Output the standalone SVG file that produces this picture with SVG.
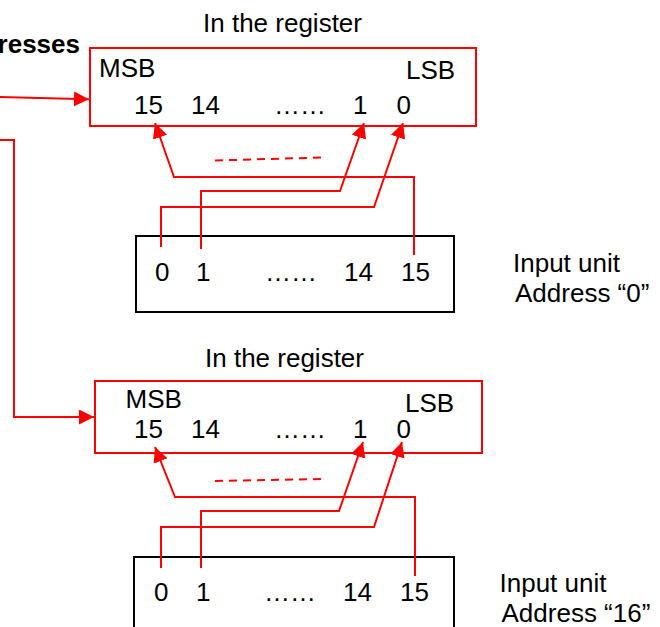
<svg xmlns="http://www.w3.org/2000/svg" width="660" height="627" viewBox="0 0 660 627">
<style>
text{font-family:"Liberation Sans",Arial,Helvetica,sans-serif;font-size:26px;fill:#000}
.b{font-weight:bold}
.reg{fill:#fff;stroke:#ff0000;stroke-width:2}
.inp{fill:#fff;stroke:#000;stroke-width:2}
.wire{fill:none;stroke:#ff0000;stroke-width:2}
.arr{fill:none;stroke:#ff0000;stroke-width:2;marker-end:url(#ah)}
.dash{fill:none;stroke:#ff0000;stroke-width:2;stroke-dasharray:8 6}
</style>
<defs>
<marker id="ah" markerUnits="userSpaceOnUse" markerWidth="16" markerHeight="16" refX="15" refY="7.5" orient="auto">
<path d="M0,0 L15,7.5 L0,15 Z" fill="#ff0000"/>
</marker>
</defs>
<rect width="660" height="627" fill="#fff"/>
<text class="b" x="80" y="53" text-anchor="end">resses</text>

<g id="register1">
<text x="203" y="32">In the register</text>
<rect class="reg" x="90" y="48" width="386" height="78"/>
<text x="99" y="77">MSB</text>
<text x="406" y="79">LSB</text>
<text x="134" y="114">15</text>
<text x="191" y="114">14</text>
<text x="274" y="114">……</text>
<text x="353" y="114">1</text>
<text x="396.5" y="114">0</text>
</g>

<g id="input1">
<rect class="inp" x="136" y="236" width="318" height="76"/>
<text x="155" y="281">0</text>
<text x="196" y="281">1</text>
<text x="265" y="281">……</text>
<text x="344" y="281">14</text>
<text x="401" y="281">15</text>
<text x="513" y="272">Input unit</text>
<text x="515" y="302">Address “0”</text>
</g>

<g id="register2">
<text x="205" y="367">In the register</text>
<rect class="reg" x="95" y="381" width="387" height="72"/>
<text x="125.5" y="408">MSB</text>
<text x="405" y="412">LSB</text>
<text x="134" y="438">15</text>
<text x="191" y="438">14</text>
<text x="274" y="438">……</text>
<text x="353" y="438">1</text>
<text x="396.5" y="438">0</text>
</g>

<g id="input2">
<rect class="inp" x="134" y="557" width="320" height="100"/>
<text x="154" y="601">0</text>
<text x="196" y="601">1</text>
<text x="264" y="601">……</text>
<text x="343" y="601">14</text>
<text x="400" y="601">15</text>
<text x="499.5" y="592">Input unit</text>
<text x="501.5" y="622">Address “16”</text>
</g>

<g id="connectors">
<path class="arr" d="M0,97 L89,99.3"/>
<path class="arr" d="M0,140 L14,140 L14,417 L94,417"/>
<path class="arr" d="M414,255 L414,177 L174,177 L155,123"/>
<path class="arr" d="M201,249 L201,191 L340,191 L364,123"/>
<path class="arr" d="M161,247 L161,207 L374,207 L403,123"/>
<path class="dash" d="M215,160.5 L322,157.5"/>
<path class="arr" d="M415,576 L415,497 L175,497 L155,447"/>
<path class="arr" d="M201,568 L201,511 L339,511 L363,442"/>
<path class="arr" d="M161,568 L161,527 L374,527 L402,442"/>
<path class="dash" d="M215,481 L322,479"/>
</g>
</svg>
